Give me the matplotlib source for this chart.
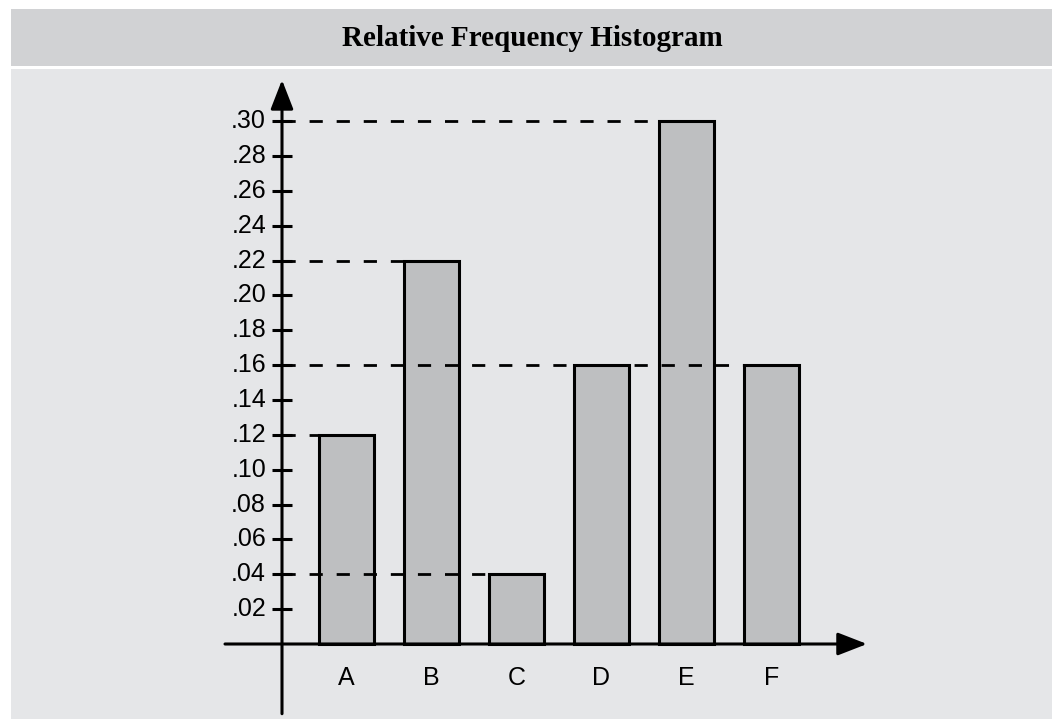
#!/usr/bin/env python3
"""
Relative frequency histogram for categories A-F, drawn as a textbook-style
figure: hand-drawn axes with arrows and dashed guide lines to each bar height.
"""

import matplotlib
matplotlib.use("Agg")
import matplotlib.pyplot as plt
from matplotlib.patches import Rectangle

categories = ["A", "B", "C", "D", "E", "F"]
rel_freq = [0.12, 0.22, 0.04, 0.16, 0.30, 0.16]
y_ticks = [0.02, 0.04, 0.06, 0.08, 0.10, 0.12, 0.14, 0.16,
           0.18, 0.20, 0.22, 0.24, 0.26, 0.28, 0.30]
y_tick_labels = [f"{t:.2f}".lstrip("0") for t in y_ticks]

W, H = 1052, 719
BAND = "#d1d2d4"
BG = "#e5e6e8"
BAR = "#bebfc1"


def main():
    plt.rcParams["lines.scale_dashes"] = False
    fig = plt.figure(figsize=(W / 100, H / 100), dpi=100)
    fig.patch.set_facecolor("white")

    # title band and chart panel (pixel boxes converted to figure fractions)
    def px_rect(x0, y0, x1, y1, color):
        fig.add_artist(Rectangle((x0 / W, 1 - y1 / H), (x1 - x0) / W,
                                 (y1 - y0) / H, transform=fig.transFigure,
                                 facecolor=color, edgecolor="none", zorder=0))

    px_rect(11, 9, W, 66, BAND)
    px_rect(11, 69, W, H, BG)
    fig.text(532 / W, 1 - 39 / H, "Relative Frequency Histogram",
             ha="center", va="center", fontsize=21, fontweight="bold",
             family="Liberation Serif")

    ax = fig.add_axes([200 / W, 0, 700 / W, (H - 70) / H])
    ax.set_xlim(-1.7235, 6.5118)
    ax.set_ylim(-0.04304, 0.32941)
    ax.axis("off")

    x = list(range(len(categories)))
    width = 55 / 85
    ax.bar(x, rel_freq, width=width, color=BAR, edgecolor="black",
           linewidth=2.2, zorder=2)

    y_axis_x = -0.7588
    tick_half = 0.118

    # dashed guides from the y axis to the left edge of the last bar at that height
    for v in sorted(set(rel_freq)):
        last = max(i for i, r in enumerate(rel_freq) if r == v)
        ax.plot([y_axis_x, x[last] - width / 2], [v, v], color="black",
                linewidth=2.0, dashes=(9.5, 10), zorder=3)

    # axes with arrow heads
    arrow = dict(arrowstyle="-|>,head_length=1.8,head_width=0.7",
                 color="black", lw=2.2, shrinkA=0, shrinkB=0)
    ax.annotate("", xy=(y_axis_x, 0.3237), xytext=(y_axis_x, -0.04),
                arrowprops=arrow, zorder=4)
    ax.annotate("", xy=(6.1235, 0), xytext=(-1.4294, 0),
                arrowprops=arrow, zorder=4)

    # y ticks and labels
    for t, lab in zip(y_ticks, y_tick_labels):
        ax.plot([y_axis_x - tick_half, y_axis_x + tick_half], [t, t],
                color="black", linewidth=2.2, solid_capstyle="butt", zorder=4)
        ax.text(y_axis_x - tick_half - 0.07, t, lab, ha="right", va="center",
                fontsize=18, family="Liberation Sans")

    # category labels
    for xi, c in zip(x, categories):
        ax.text(xi, -0.0195, c, ha="center", va="center", fontsize=18,
                family="Liberation Sans")

    fig.savefig("out.png", dpi=100, facecolor=fig.get_facecolor())


if __name__ == "__main__":
    main()
